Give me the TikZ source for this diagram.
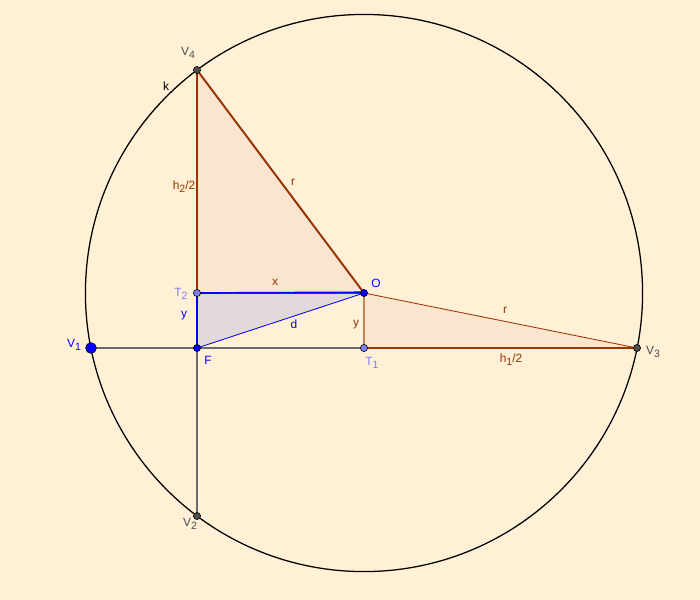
\documentclass[tikz,border=0pt]{standalone}
\usepackage{fontspec}
\setmainfont{Liberation Sans}
\definecolor{bgcream}{RGB}{255,240,214}
\definecolor{tanfill}{RGB}{250,230,206}
\definecolor{lilacfill}{RGB}{228,217,218}
\definecolor{segbrown}{RGB}{153,51,0}
\definecolor{lightbrown}{RGB}{200,130,90}
\definecolor{ptblue}{RGB}{0,0,255}
\definecolor{ptlight}{RGB}{125,125,255}
\definecolor{ptgrey}{RGB}{77,77,77}
\definecolor{axisgrey}{RGB}{105,105,105}
\newcommand{\vsub}[2]{#1\raisebox{-0.5ex}{\fontsize{7.5}{8}\selectfont #2}}

\begin{document}
\begin{tikzpicture}[x = 0.025cm, y = -0.025cm, font = \fontsize{8.5}{10}\selectfont,
    thick seg/.style = {draw = segbrown, line width = 1.4pt},
    thin seg/.style = {draw = segbrown, line width = 0.6pt},
    blue seg/.style = {draw = ptblue, line width = 1.2pt},
    axis/.style = {draw = axisgrey, line width = 0.8pt},
    dot/.style = {shape = circle, draw = black, line width = 0.4pt, inner sep = 0pt, minimum size = 0.18cm},
    lbl/.style = {inner sep = 0pt}]
    % background
    \fill[bgcream] (0,0) rectangle (700,600);
    \useasboundingbox (0,0) rectangle (700,600);
    % points
    \coordinate (O) at (364,293);
    \coordinate (F) at (197,348);
    \coordinate (T1) at (364,348);
    \coordinate (T2) at (197,293);
    \coordinate (V1) at (91,348);
    \coordinate (V2) at (197,516);
    \coordinate (V3) at (637,348);
    \coordinate (V4) at (197,70);
    % regions
    \fill[tanfill] (V4) -- (T2) -- (O) -- cycle;
    \fill[tanfill] (O) -- (T1) -- (V3) -- cycle;
    \fill[lilacfill] (F) -- (T2) -- (O) -- cycle;
    % axes
    \draw[axis] (V1) -- (T1);
    \draw[axis] (F) -- (V2);
    % segments
    \draw[thick seg] (V4) -- (T2);
    \draw[thick seg] (V4) -- (O);
    \draw[thin seg] (T2) -- (O);
    \draw[thin seg] (O) -- (V3);
    \draw[thick seg, line width = 1.1pt] (T1) -- (V3);
    \draw[draw = lightbrown, line width = 0.8pt] (O) -- (T1);
    \draw[blue seg] (T2) -- ([yshift = 0.5]O);
    \draw[blue seg] (T2) -- (F);
    \draw[draw = ptblue, line width = 0.6pt] (F) -- (O);
    % circle k
    \draw[line width = 0.9pt] (O) circle [radius = 6.9625cm];
    % dots
    \node[dot, fill = ptblue, minimum size = 0.27cm] (v1) at (V1) {};
    \node[dot, fill = ptgrey] (v2) at (V2) {};
    \node[dot, fill = ptgrey] (v3) at (V3) {};
    \node[dot, fill = ptgrey] (v4) at (V4) {};
    \node[dot, fill = ptlight] (t1) at (T1) {};
    \node[dot, fill = ptlight] (t2) at (T2) {};
    \node[dot, fill = ptblue] (f) at (F) {};
    \node[dot, fill = ptblue] (o) at (O) {};
    % labels
    \node[lbl, text = ptgrey] (lv4) at (188,53) {\vsub{V}{4}};
    \node[lbl] (lk) at (166,86) {k};
    \node[lbl, text = segbrown] (lh2) at (184,187) {\vsub{h}{2}/2};
    \node[lbl, text = segbrown] (lr1) at (293,182) {r};
    \node[lbl, text = segbrown] (lx) at (275,282) {x};
    \node[lbl, text = ptblue] (lo) at (376,283) {O};
    \node[lbl, text = ptlight] (lt2) at (181,294) {\vsub{T}{2}};
    \node[lbl, text = ptblue] (ly1) at (184,316) {y};
    \node[lbl, text = ptblue] (ld) at (294,324) {d};
    \node[lbl, text = segbrown] (ly2) at (356,325) {y};
    \node[lbl, text = ptblue] (lf) at (208,360) {F};
    \node[lbl, text = ptlight] (lt1) at (372,363) {\vsub{T}{1}};
    \node[lbl, text = ptblue] (lv1) at (74,345) {\vsub{V}{1}};
    \node[lbl, text = segbrown] (lr2) at (505,310) {r};
    \node[lbl, text = segbrown] (lh1) at (511,360) {\vsub{h}{1}/2};
    \node[lbl, text = ptgrey] (lv3) at (653,352) {\vsub{V}{3}};
    \node[lbl, text = ptgrey] (lv2) at (190,524) {\vsub{V}{2}};
\end{tikzpicture}
\end{document}
